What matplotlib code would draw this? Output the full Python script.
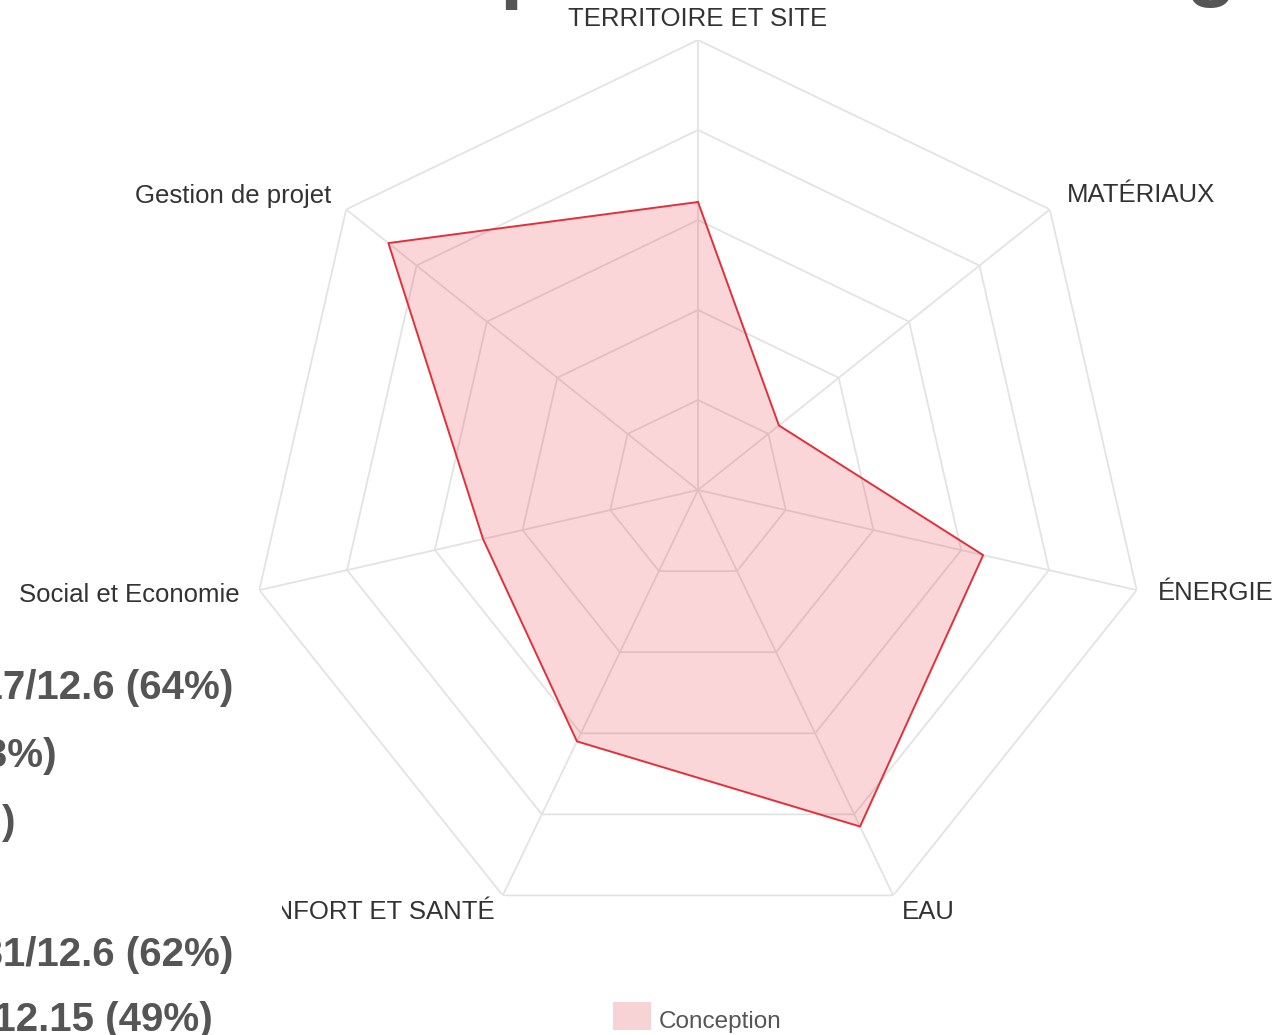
import numpy as np
import matplotlib
matplotlib.use("Agg")
import matplotlib.pyplot as plt
from matplotlib.patches import Rectangle

plt.rcParams['font.family'] = ['Liberation Sans', 'DejaVu Sans']

# axes of the radar, clockwise from the top
categories = ["TERRITOIRE ET SITE", "MATÉRIAUX", "ÉNERGIE", "EAU",
              "CONFORT ET SANTÉ", "Social et Economie", "Gestion de projet"]
conception = [64, 23, 65, 83, 62, 49, 88]   # % of max score
levels = [20, 40, 60, 80, 100]

# scores text partly hidden behind the chart on the left
side_texts = ["8.17/12.6 (64%)", "(63%)", ")", "7.81/12.6 (62%)", "5.91/12.15 (49%)"]

W, H = 1286, 1035
fig = plt.figure(figsize=(W / 100, H / 100), dpi=100)

def px(x, y):
    return x / W, 1 - y / H

# big grey heading behind the chart, only bits of it show at the top
fig.text(*px(499, -7), "p", fontsize=60, fontweight='bold', color='#555555', va='baseline')
fig.text(*px(1186, -9), "g", fontsize=60, fontweight='bold', color='#555555', va='baseline')

cx, cy, R = 698, 490, 450
ax = fig.add_axes([(cx - R) / W, (H - cy - R) / H, 2 * R / W, 2 * R / H], projection='polar')
ax.set_theta_zero_location('N')
ax.set_theta_direction(-1)
ax.set_ylim(0, 100)
ax.grid(False)
ax.set_xticks([])
ax.set_yticks([])
ax.spines['polar'].set_visible(False)
ax.patch.set_alpha(0)

n = len(categories)
theta = np.linspace(0, 2 * np.pi, n, endpoint=False)
theta_c = np.append(theta, theta[0])

grid_col = '#e3e3e3'
for lv in levels:
    ax.plot(theta_c, [lv] * (n + 1), color=grid_col, lw=1.3, zorder=1)
for t in theta:
    ax.plot([t, t], [0, 100], color=grid_col, lw=1.3, zorder=1)

vals = np.append(conception, conception[0])
ax.fill(theta_c, vals, color=(0.93, 0.2, 0.25, 0.2), lw=0, zorder=2)
ax.plot(theta_c, vals, color='#e0313b', lw=1.4, zorder=3)

# category labels
lab_style = dict(fontsize=18.5, color='#333333')
fig.text(*px(698, 19), categories[0], ha='center', va='center', **lab_style)
fig.text(*px(1067, 195), categories[1], ha='left', va='center', **lab_style)
fig.text(*px(1158, 593), categories[2], ha='left', va='center', **lab_style)
fig.text(*px(902, 912), categories[3], ha='left', va='center', **lab_style)
fig.text(*px(495, 912), categories[4], ha='right', va='center', zorder=2, **lab_style)
fig.text(*px(240, 595), categories[5], ha='right', va='center', **lab_style)
fig.text(*px(331, 196), categories[6], ha='right', va='center', **lab_style)

# white box of the score text covering part of a label
fig.add_artist(Rectangle(px(0, 930), 282 / W, 38 / H, transform=fig.transFigure,
                         facecolor='white', edgecolor='none', zorder=4))

side_pos = [(233, 688), (57, 756), (15, 823), (233, 955), (213, 1020)]
for (x, y), s in zip(side_pos, side_texts):
    fig.text(*px(x, y), s, ha='right', va='center', fontsize=29, fontweight='bold',
             color='#555555', zorder=5)

# legend
fig.add_artist(Rectangle(px(613, 1030), 38 / W, 28 / H, transform=fig.transFigure,
                         facecolor='#f8d3d5', edgecolor='none'))
fig.text(*px(659, 1022), "Conception", ha='left', va='center', fontsize=17.5, color='#555555')

fig.savefig('out.png', dpi=100)
